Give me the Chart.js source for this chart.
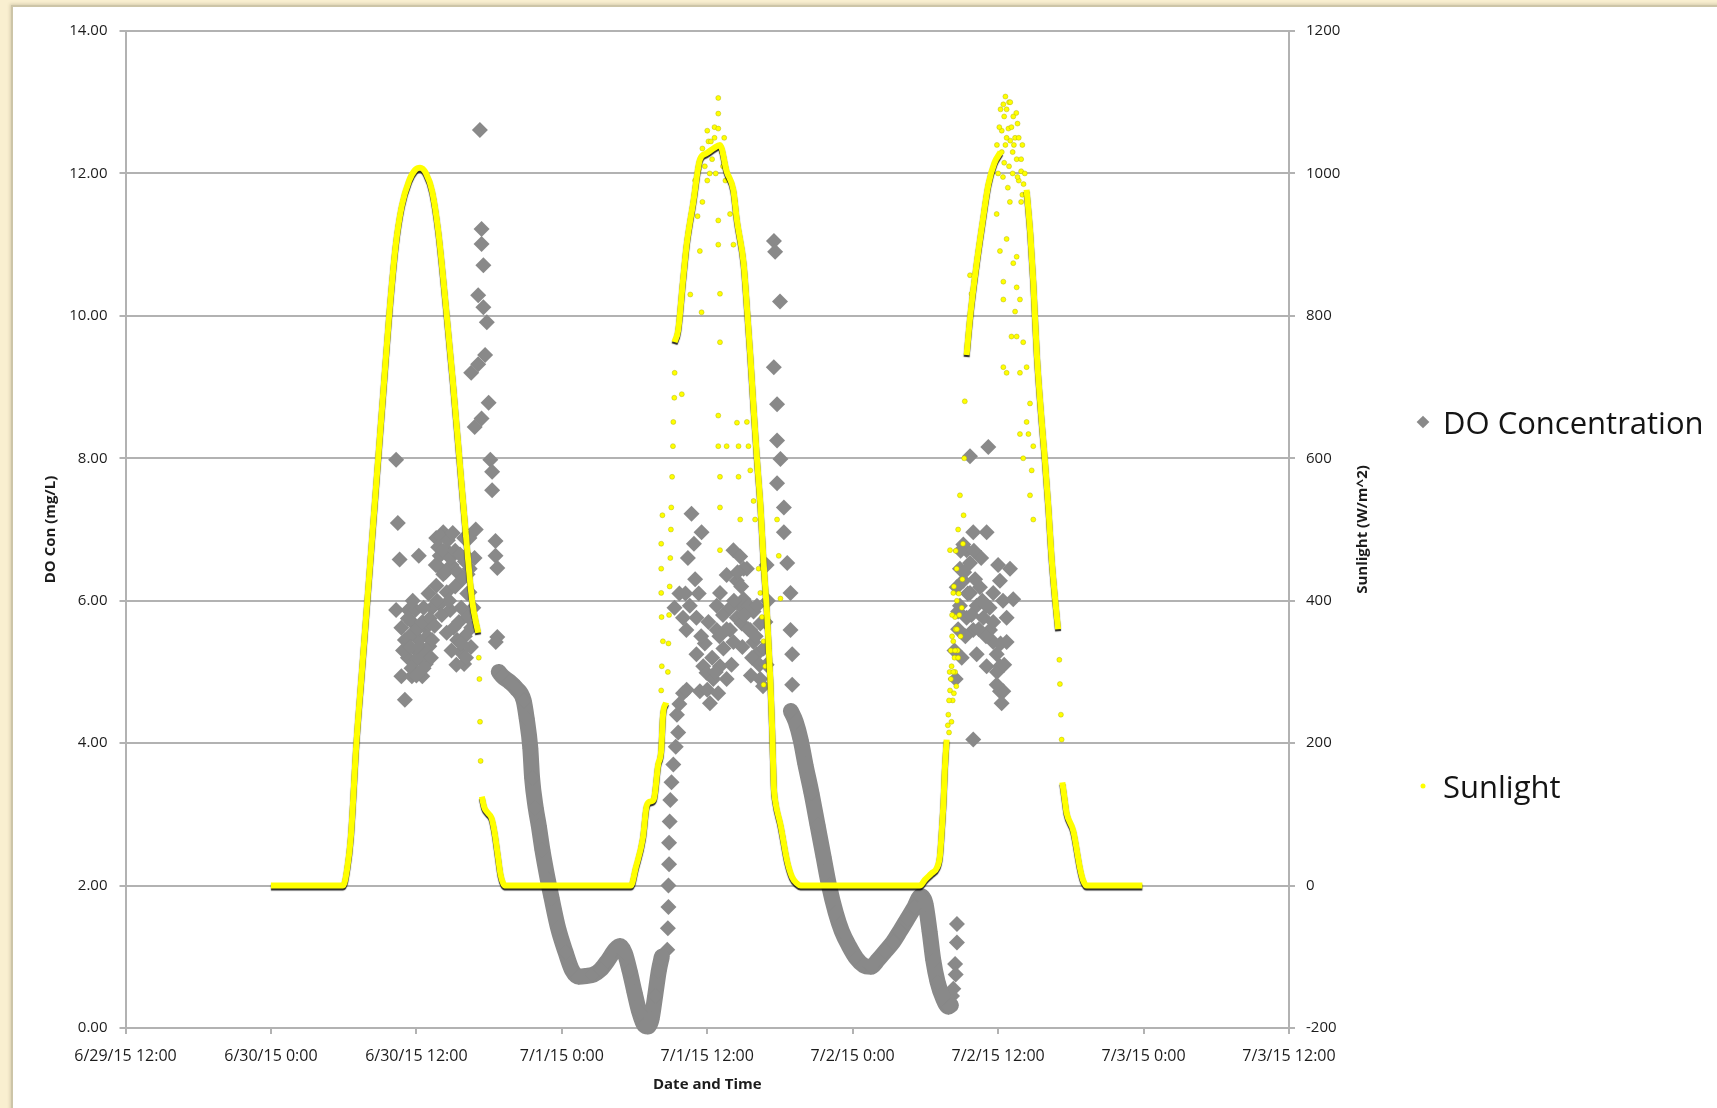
<!DOCTYPE html>
<html>
<head>
<meta charset="utf-8">
<title>DO Concentration and Sunlight</title>
<script src="https://cdn.jsdelivr.net/npm/chart.js@4.4.1/dist/chart.umd.min.js"></script>
<style>
  html, body { margin: 0; padding: 0; }
  body { width: 1717px; height: 1108px; overflow: hidden; background: #f9efd0; position: relative; font-family: "Open Sans", sans-serif; }
  #panel { position: absolute; left: 11px; top: 5px; right: -10px; bottom: -10px; background: #fff; border: 2px solid #cdc5a8; box-shadow: -1px -1px 3px rgba(120, 110, 80, 0.25); }
  #chart { position: absolute; left: 0; top: 0; }
  .legend-item { position: absolute; left: 1414px; height: 44px; line-height: 44px; font-size: 31px; color: #141414; white-space: nowrap; }
  .legend-item .marker { position: absolute; top: 50%; left: 9px; transform: translate(-50%, -50%); }
  .legend-item .marker.diamond { width: 9px; height: 9px; transform: translate(-50%, -50%) rotate(45deg); }
  .legend-item .marker.circle { width: 5px; height: 5px; border-radius: 50%; }
  .legend-item .label { position: absolute; left: 29px; top: 0; }
  #legend-0 { top: 400px; }
  #legend-1 { top: 764px; }
</style>
</head>
<body>
<div id="panel"></div>
<canvas id="chart" width="1717" height="1108"></canvas>
<div id="legend"></div>
<script>
// x values are hours counted from 6/29/15 12:00
const xTickLabels = ['6/29/15 12:00', '6/30/15 0:00', '6/30/15 12:00', '7/1/15 0:00', '7/1/15 12:00',
  '7/2/15 0:00', '7/2/15 12:00', '7/3/15 0:00', '7/3/15 12:00'];

const xTitle = 'Date and Time';
const yTitle = 'DO Con (mg/L)';
const y2Title = 'Sunlight (W/m^2)';

// sunlight (W/m^2): the dense, continuous part of the record, split where readings jump
const sunTrace = [
  [[12, 0], [17.95, 0], [18.3, 25], [18.6, 70], [19.05, 200], [19.5, 300], [19.95, 400], [20.4, 500],
   [20.85, 600], [21.3, 700], [21.75, 800], [22.3, 900], [22.8, 955], [23.4, 990], [23.9, 1005],
   [24.3, 1008], [24.8, 1000], [25.3, 975], [25.8, 920], [26.4, 820], [27.0, 710], [27.55, 600],
   [28.1, 490], [28.6, 400], [29.1, 355]],
  [[29.4, 125], [29.6, 110], [29.9, 102], [30.2, 95], [30.45, 75], [30.7, 45], [30.95, 15], [31.2, 2],
   [31.4, 0], [41.7, 0], [42.1, 25], [42.7, 68], [43.0, 112], [43.3, 118], [43.6, 122], [43.95, 170],
   [44.2, 190], [44.35, 240], [44.6, 257]],
  [[45.3, 763], [45.6, 780], [46.0, 850], [46.3, 900], [46.85, 960], [47.4, 1020], [47.9, 1028],
   [48.5, 1035], [49.05, 1040], [49.6, 1003], [50.15, 977], [50.45, 934], [51.0, 874], [51.3, 806],
   [51.55, 745], [51.8, 677], [52.1, 600], [52.4, 531], [52.65, 454], [52.95, 377], [53.2, 291],
   [53.35, 222], [53.5, 137], [53.6, 120], [54.05, 85], [54.6, 34], [55.0, 12], [55.4, 3], [55.7, 0],
   [65.55, 0], [65.95, 8], [66.5, 17], [66.95, 25], [67.2, 42], [67.35, 77], [67.5, 120], [67.6, 162],
   [67.75, 205]],
  [[69.4, 745], [69.7, 800], [70.2, 870], [70.7, 930], [71.2, 985], [71.7, 1015], [72.2, 1030]],
  [[74.35, 977], [74.65, 917], [74.9, 848], [75.2, 745], [75.6, 651], [75.85, 600], [76.15, 531],
   [76.4, 463], [76.7, 403], [76.95, 360]],
  [[77.3, 145], [77.5, 120], [77.65, 102], [78.2, 77], [78.75, 25], [79.0, 8], [79.3, 0], [83.9, 0]]
];

// sunlight readings scattered by cloud
const sunScatter = [
  [29.15, 320], [29.2, 290], [29.25, 230], [29.3, 175],
  [44.2, 274], [44.25, 308], [44.34, 343], [44.23, 377], [44.2, 411], [44.2, 445], [44.2, 480], [44.3, 520],
  [44.75, 300], [44.8, 340], [44.85, 380], [44.9, 420], [44.95, 460], [45.0, 500], [45.03, 531],
  [45.1, 574], [45.17, 617], [45.2, 651], [45.28, 685], [45.31, 720], [45.9, 690], [46.6, 830],
  [47.39, 891], [47.53, 805], [47.2, 940], [47.6, 960], [48.0, 990], [48.2, 1000],
  [47.0, 990], [47.6, 1035], [47.8, 1010], [48.1, 1045], [48.4, 1020], [48.7, 1000], [49.2, 1030],
  [49.4, 1050], [48.0, 1060], [47.3, 1005], [48.6, 1065],
  [48.91, 934], [48.91, 900], [49.05, 831], [49.05, 763], [48.91, 660], [48.91, 617], [49.05, 574],
  [49.05, 531], [49.05, 471], [49.6, 617], [49.88, 943], [50.16, 900], [50.3, 960], [50.58, 617],
  [50.58, 574], [50.72, 514], [50.45, 650], [51.27, 651], [51.4, 617], [51.55, 583], [51.82, 540],
  [51.95, 514], [52.24, 445], [52.38, 411], [52.52, 377], [52.65, 343], [52.79, 308], [52.65, 282],
  [53.76, 514], [53.9, 463], [54.04, 403], [48.91, 1106], [48.91, 1084], [48.91, 1063], [48.8, 1037],
  [48.6, 1050], [48.3, 1045], [49.3, 1010], [49.5, 990],
  [67.89, 240], [68.03, 274], [68.16, 308], [68.3, 343], [68.44, 377], [68.3, 411], [68.58, 445],
  [68.1, 290], [68.25, 260], [68.4, 320], [68.5, 360], [68.6, 400], [68.2, 380], [68.35, 420],
  [68.5, 470], [68.03, 471], [68.85, 548], [68.7, 500], [67.95, 215], [68.15, 230], [68.45, 300],
  [68.65, 330], [68.75, 410], [69.68, 857], [69.8, 831],
  [67.85, 225], [67.95, 260], [68.0, 300], [68.1, 330], [68.2, 350], [68.3, 300], [68.35, 270],
  [68.45, 330], [68.55, 280], [68.6, 360], [68.7, 320], [68.8, 380], [68.9, 350], [69.0, 390],
  [69.05, 430], [69.1, 480], [69.15, 520], [69.2, 600], [69.25, 680],
  [72.43, 1097], [73.25, 1080], [72.85, 1063], [73.53, 1020], [73.9, 1003], [73.0, 1046], [72.6, 1040],
  [72.3, 1060], [73.4, 1050], [74.0, 1040], [72.9, 1010], [73.7, 990], [74.2, 1000], [72.5, 1015],
  [73.2, 1030], [73.6, 1070], [72.7, 1090],
  [71.9, 1040], [72.1, 1065], [72.3, 1030], [72.5, 1080], [72.7, 1050], [72.9, 1100], [73.1, 1065],
  [73.3, 1040], [73.5, 1085], [73.7, 1050], [73.9, 1020], [74.1, 985], [72.0, 1000], [72.4, 995],
  [72.8, 980], [73.2, 1000], [73.6, 995], [74.0, 970], [72.2, 1090], [73.0, 1100], [72.6, 1108],
  [71.88, 943], [72.15, 891], [72.43, 848], [72.43, 823], [72.7, 908], [72.97, 960], [73.25, 874],
  [73.53, 840], [73.4, 806], [73.8, 823], [72.7, 720], [73.1, 771], [73.53, 771], [73.8, 720],
  [74.07, 763], [74.35, 728], [74.63, 677], [74.35, 651], [74.5, 634], [74.9, 617], [74.77, 583],
  [74.63, 548], [74.9, 514], [73.8, 634], [74.07, 600], [72.43, 728], [73.53, 883], [73.9, 960],
  [77.05, 317], [77.1, 283], [77.18, 240], [77.24, 205]
];

// dissolved oxygen (mg/L): night-time runs dense enough to merge into a band
const doTrace = [
  [[30.8, 5.0], [31.1, 4.94], [31.7, 4.86], [32.25, 4.77], [32.85, 4.6], [33.1, 4.35], [33.4, 3.93],
   [33.55, 3.51], [33.85, 3.09], [34.1, 2.84], [34.4, 2.5], [34.85, 2.08], [35.15, 1.83], [35.7, 1.4],
   [36.3, 1.07], [36.85, 0.81], [37.4, 0.72], [38.0, 0.73], [38.6, 0.75], [39.2, 0.82], [39.8, 0.95],
   [40.4, 1.1], [40.8, 1.15], [41.2, 1.05], [41.6, 0.8], [42.0, 0.5], [42.4, 0.22], [42.8, 0.04],
   [43.1, 0.02], [43.4, 0.12], [43.7, 0.45], [44.0, 0.8], [44.25, 1.0]],
  [[54.9, 4.45], [55.3, 4.3], [55.7, 4.05], [56.1, 3.7], [56.6, 3.3], [57.1, 2.85], [57.6, 2.4],
   [58.05, 2.0], [58.6, 1.62], [59.1, 1.36], [59.7, 1.15], [60.3, 0.98], [60.9, 0.88], [61.5, 0.86],
   [62.1, 0.96], [62.7, 1.08], [63.3, 1.2], [63.9, 1.36], [64.5, 1.53], [65.1, 1.7], [65.6, 1.85],
   [66.0, 1.75], [66.35, 1.35], [66.65, 0.95], [67.0, 0.65], [67.45, 0.42], [67.9, 0.3], [68.1, 0.32]]
];

// dissolved oxygen readings spread out during the day
const doScatter = [
  [22.33, 7.98], [22.47, 7.09], [22.62, 6.58], [24.2, 6.63], [22.33, 5.87], [22.76, 5.62], [23.34, 5.87],
  [23.05, 5.45], [23.63, 5.7], [24.2, 5.45], [23.91, 5.87], [24.78, 5.62], [25.07, 5.36], [24.78, 5.11],
  [24.49, 4.94], [22.76, 4.94], [23.05, 4.61], [23.63, 4.94], [25.64, 6.88], [26.22, 6.96], [26.5, 6.71],
  [25.93, 6.63], [26.22, 6.37], [25.64, 6.21], [26.5, 6.12], [25.93, 5.95], [26.79, 5.87], [27.08, 5.62],
  [27.37, 5.45], [27.66, 5.28], [27.94, 5.11], [27.51, 5.7], [27.94, 6.88], [28.09, 6.63], [28.23, 6.37],
  [28.38, 6.12], [28.38, 6.88], [28.23, 5.78], [28.52, 5.62], [24.0, 5.3], [24.4, 5.2], [23.3, 5.2],
  [25.3, 5.9], [25.0, 6.1], [26.0, 6.9], [26.9, 6.5], [27.2, 6.2], [24.6, 5.9], [23.7, 6.0], [22.9, 5.3],
  [26.7, 6.0], [27.7, 5.9], [28.0, 5.5],
  [23.3, 5.75], [23.5, 5.35], [23.7, 5.55], [23.9, 5.15], [24.1, 5.6], [24.3, 5.35], [24.5, 5.7],
  [24.7, 5.25], [24.9, 5.5], [25.1, 5.75], [25.3, 5.45], [25.5, 5.65], [23.6, 5.05], [24.0, 4.95],
  [24.6, 5.05], [25.2, 5.2],
  [25.6, 6.5], [25.8, 6.75], [26.0, 6.45], [26.2, 6.7], [26.4, 6.4], [26.6, 6.85], [26.8, 6.6],
  [27.0, 6.95], [27.2, 6.7], [27.4, 6.4], [27.6, 6.65], [27.8, 6.3], [28.0, 6.55], [28.2, 6.1],
  [28.4, 6.45], [25.7, 6.0], [26.1, 5.8], [26.5, 5.55], [26.9, 5.3], [27.3, 5.1], [27.7, 5.4],
  [28.1, 5.2], [28.5, 5.35], [28.7, 5.9], [28.8, 6.6], [28.9, 7.0],
  [29.24, 12.61], [29.38, 11.22], [29.38, 11.01], [29.53, 10.71], [29.1, 10.29], [29.53, 10.12],
  [29.81, 9.91], [29.67, 9.45], [29.1, 9.32], [28.52, 9.2], [29.96, 8.78], [29.38, 8.56], [28.81, 8.44],
  [30.1, 7.98], [30.25, 7.81], [30.25, 7.55], [30.53, 6.84], [30.53, 6.63], [30.68, 6.46], [30.68, 5.49],
  [30.55, 5.42],
  [44.7, 1.1], [44.75, 1.4], [44.8, 1.7], [44.8, 2.0], [44.85, 2.3], [44.85, 2.6], [44.9, 2.9],
  [44.95, 3.2], [45.05, 3.45], [45.2, 3.7], [45.4, 3.95], [45.6, 4.15], [45.5, 4.4], [45.7, 4.55],
  [46.0, 4.7], [46.3, 4.75],
  [46.7, 7.22], [47.53, 6.96], [46.56, 5.93], [47.11, 5.76], [46.0, 5.76], [46.28, 5.59], [47.11, 5.25],
  [47.67, 5.08], [47.94, 4.99], [48.22, 4.56], [47.39, 4.73], [48.5, 4.9], [48.78, 5.93], [48.78, 5.59],
  [49.05, 6.11], [49.6, 6.36], [50.16, 6.71], [50.44, 6.28], [50.72, 5.93], [51.0, 6.02], [51.27, 6.45],
  [51.55, 5.59], [51.82, 5.42], [52.1, 5.25], [52.38, 4.9], [52.65, 5.33], [50.44, 5.76], [49.88, 5.59],
  [49.33, 5.33], [49.05, 5.08], [49.6, 4.9], [50.16, 5.42], [50.85, 5.68], [51.41, 5.93], [51.82, 5.85],
  [52.1, 5.93], [52.38, 5.68], [50.72, 6.62], [51.0, 6.45], [52.9, 6.5], [53.0, 6.0], [52.8, 5.7],
  [47.8, 5.4], [48.1, 5.7], [48.4, 5.2], [48.7, 5.0], [49.0, 5.5], [49.3, 5.8], [49.6, 5.6], [49.9, 5.9],
  [50.2, 6.0], [50.5, 6.4], [50.8, 6.2], [51.1, 5.8], [51.4, 5.6], [51.7, 5.2], [52.0, 5.5], [52.3, 5.1],
  [52.6, 4.8], [47.5, 5.5], [48.0, 4.75], [48.9, 4.7], [50.0, 5.1], [50.9, 5.35], [51.6, 4.95],
  [52.9, 5.1], [47.0, 6.3], [47.3, 6.1], [46.4, 6.6], [46.9, 6.8], [45.3, 5.9], [45.7, 6.1], [46.2, 6.1],
  [53.5, 11.05], [53.6, 10.9], [54.0, 10.2], [53.49, 9.28], [53.76, 8.76], [53.76, 8.25], [54.04, 7.99],
  [53.76, 7.65], [54.32, 7.31], [54.32, 6.96], [54.6, 6.53], [54.87, 6.11], [54.87, 5.59], [55.01, 5.25],
  [55.01, 4.82],
  [68.3, 0.55], [68.45, 0.9], [68.6, 1.2], [68.6, 1.46], [68.5, 0.75], [68.2, 0.45],
  [69.68, 8.03], [71.19, 8.16], [69.95, 6.96], [71.05, 6.96], [68.85, 6.45], [69.4, 6.71], [72.98, 6.45],
  [73.25, 6.02], [70.23, 5.25], [71.05, 5.08], [72.15, 5.08], [72.15, 4.73], [72.43, 4.73], [69.95, 4.05],
  [69.13, 6.28], [69.68, 6.11], [70.23, 5.93], [70.78, 5.76], [71.33, 5.59], [71.6, 5.42], [71.88, 5.25],
  [68.85, 5.93], [69.4, 5.76], [69.95, 5.59], [70.5, 6.19], [71.05, 5.93], [71.6, 6.11], [72.15, 6.28],
  [72.7, 5.76], [72.7, 5.42], [69.13, 6.79], [69.68, 6.53], [68.58, 6.19], [68.7, 5.85], [71.88, 4.82],
  [72.29, 4.56], [68.4, 5.3], [68.5, 4.9],
  [68.9, 6.7], [69.2, 6.4], [69.5, 6.1], [69.8, 5.8], [70.1, 6.3], [70.4, 5.6], [70.7, 6.0], [71.0, 5.5],
  [71.3, 5.9], [71.6, 5.7], [71.9, 5.0], [72.2, 5.4], [72.5, 5.1], [70.0, 6.7], [70.6, 6.6], [72.0, 6.5],
  [72.4, 6.0], [68.7, 5.6], [69.0, 5.2], [69.3, 5.5]
];

const grey = '#898989';
const yellow = '#ffff00';
const gridGrey = '#b2b2b2';
const tickColor = '#1c1c1c';

function toPoints(pairs) {
  return pairs.map(([x, y]) => ({ x, y }));
}

// consecutive segments, with a gap between them
function joinSegments(segments) {
  const out = [];
  segments.forEach((seg, i) => {
    if (i > 0) out.push({ x: seg[0][0], y: null });
    seg.forEach(([x, y]) => out.push({ x, y }));
  });
  return out;
}

const traceShadow = {
  id: 'traceShadow',
  beforeDatasetDraw(chart, args) {
    if (args.index !== 0) return;
    const ctx = chart.ctx;
    ctx.save();
    ctx.shadowColor = 'rgba(0, 0, 0, 0.85)';
    ctx.shadowOffsetY = 2;
    ctx.shadowBlur = 1;
  },
  afterDatasetDraw(chart, args) {
    if (args.index === 0) chart.ctx.restore();
  }
};

// right axis title reads bottom to top, like the left one
const rightTitle = {
  id: 'rightTitle',
  afterDraw(chart) {
    const { ctx, chartArea, scales } = chart;
    ctx.save();
    ctx.translate(scales.y2.left + 74, (chartArea.top + chartArea.bottom) / 2);
    ctx.rotate(-Math.PI / 2);
    ctx.font = 'bold 15px "Open Sans"';
    ctx.fillStyle = tickColor;
    ctx.textAlign = 'center';
    ctx.textBaseline = 'middle';
    ctx.fillText(y2Title, 0, 0);
    ctx.restore();
  }
};

const tickFont = { family: '"Open Sans", sans-serif', size: 15 };
const titleFont = { family: '"Open Sans", sans-serif', size: 15, weight: 'bold' };

const config = {
  type: 'scatter',
  data: {
    datasets: [
      {
        label: 'Sunlight',
        data: joinSegments(sunTrace),
        showLine: true,
        spanGaps: false,
        cubicInterpolationMode: 'monotone',
        borderColor: yellow,
        borderWidth: 6,
        pointRadius: 0,
        pointStyle: 'circle',
        yAxisID: 'y2',
        clip: false
      },
      {
        label: 'Sunlight',
        data: toPoints(sunScatter),
        pointStyle: 'circle',
        pointRadius: 2.5,
        backgroundColor: yellow,
        borderColor: 'rgba(170, 170, 0, 0.7)',
        borderWidth: 0.6,
        yAxisID: 'y2',
        clip: false
      },
      {
        label: 'DO Concentration',
        data: joinSegments(doTrace),
        showLine: true,
        spanGaps: false,
        cubicInterpolationMode: 'monotone',
        borderColor: grey,
        borderWidth: 16,
        borderCapStyle: 'round',
        borderJoinStyle: 'round',
        pointStyle: 'rectRot',
        pointRadius: 8,
        pointBorderWidth: 0,
        backgroundColor: grey,
        yAxisID: 'y',
        clip: false
      },
      {
        label: 'DO Concentration',
        data: toPoints(doScatter),
        pointStyle: 'rectRot',
        pointRadius: 8,
        borderWidth: 0,
        backgroundColor: grey,
        yAxisID: 'y',
        clip: false
      }
    ]
  },
  options: {
    responsive: false,
    animation: false,
    events: [],
    layout: { padding: { left: 0, top: 31, right: 333, bottom: 0 } },
    plugins: {
      legend: { display: false },
      tooltip: { enabled: false }
    },
    scales: {
      x: {
        type: 'linear',
        min: 0,
        max: 96,
        afterFit(scale) { scale.height = 80; },
        ticks: {
          stepSize: 12,
          autoSkip: false,
          maxRotation: 0,
          padding: 13,
          color: tickColor,
          font: { family: '"Open Sans", sans-serif', size: 16 },
          callback: (v) => xTickLabels[Math.round(v / 12)] ?? ''
        },
        grid: { drawOnChartArea: false, tickLength: 6, color: gridGrey, lineWidth: 2 },
        border: { color: gridGrey, width: 2 },
        title: { display: true, text: xTitle, color: tickColor, font: titleFont, padding: { top: 0, bottom: 14 } }
      },
      y: {
        position: 'left',
        min: 0,
        max: 14,
        afterFit(scale) { scale.width = 125.5; },
        ticks: {
          stepSize: 2,
          padding: 12,
          color: tickColor,
          font: tickFont,
          callback: (v) => v.toFixed(2)
        },
        grid: { tickLength: 6, color: gridGrey, lineWidth: 2 },
        border: { color: gridGrey, width: 2 },
        title: { display: true, text: yTitle, color: tickColor, font: titleFont, padding: { top: 42, bottom: 0 } }
      },
      y2: {
        position: 'right',
        min: -200,
        max: 1200,
        afterFit(scale) { scale.width = 95; },
        ticks: { stepSize: 200, padding: 11, color: tickColor, font: tickFont, callback: (v) => String(v) },
        grid: { drawOnChartArea: false, tickLength: 6, color: gridGrey, lineWidth: 2 },
        border: { color: gridGrey, width: 2 }
      }
    }
  },
  plugins: [traceShadow, rightTitle]
};

const chart = new Chart(document.getElementById('chart'), config);

// legend built from the dataset labels, one entry per series
const legendBox = document.getElementById('legend');
const seen = new Set();
chart.data.datasets.slice().reverse().forEach((ds) => {
  if (seen.has(ds.label)) return;
  const item = document.createElement('div');
  item.className = 'legend-item';
  item.id = 'legend-' + seen.size;
  seen.add(ds.label);
  const marker = document.createElement('span');
  marker.className = 'marker ' + (ds.pointStyle === 'rectRot' ? 'diamond' : 'circle');
  marker.style.background = ds.backgroundColor || ds.borderColor;
  const text = document.createElement('span');
  text.className = 'label';
  text.textContent = ds.label;
  item.appendChild(marker);
  item.appendChild(text);
  legendBox.appendChild(item);
});
</script>
</body>
</html>
